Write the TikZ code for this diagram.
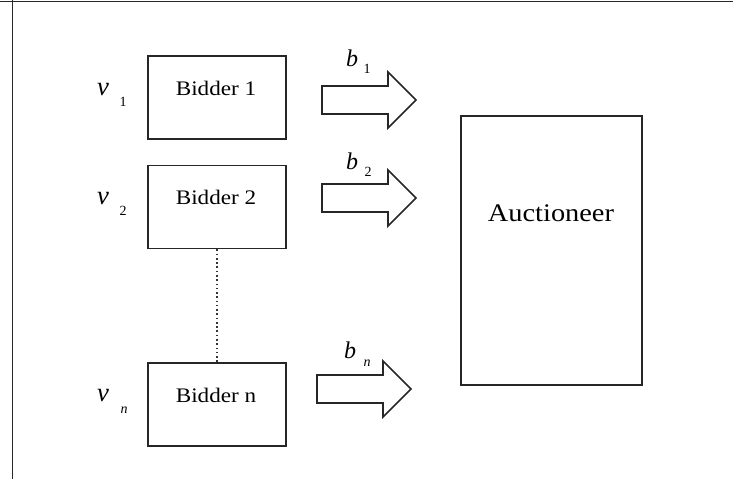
\documentclass[tikz,border=0pt]{standalone}
\usepackage{fontspec}
\setmainfont{Liberation Serif}
\newfontfamily\boxfont[FakeStretch=1.12]{Liberation Serif}
\begin{document}
\begin{tikzpicture}[x=0.75pt,y=-0.75pt,
  boxstyle/.style={draw=black!85,line width=1.3pt,minimum width=138*0.75pt,minimum height=83*0.75pt,inner sep=0pt},
  bidtext/.style={font=\boxfont\fontsize{15.5}{17}\selectfont},
  mathv/.style={font=\fontsize{20}{23}\selectfont\itshape,inner sep=0pt},
  mathb/.style={font=\fontsize{18}{21}\selectfont\itshape,inner sep=0pt},
  subup/.style={font=\fontsize{10.5}{12}\selectfont,inner sep=0pt},
  subit/.style={font=\fontsize{10.5}{12}\selectfont\itshape,inner sep=0pt},
  blockarrow/.pic={
    \draw[line width=1.2pt,black!85,line join=miter]
      (0,-14) -- (66,-14) -- (66,-28) -- (94,0) -- (66,28) -- (66,14) -- (0,14) -- cycle;
  }]
% page extent
\useasboundingbox (0,0) rectangle (733,479);
% frame edges (top and left)
\draw[line width=1.4pt,black!85] (0,1.5) -- (733,1.5);
\draw[line width=1.4pt,black!85] (12.5,0) -- (12.5,479);

% bidders
\node[boxstyle] (bid1) at (217,97.5) {};
\node[boxstyle] (bid2) at (217,207) {};
\node[boxstyle] (bidn) at (217,404.5) {};
\node[bidtext] (t1) at (216,88) {Bidder 1};
\node[bidtext] (t2) at (216,197) {Bidder 2};
\node[bidtext] (tn) at (216,395) {Bidder n};

% ellipsis between bidder 2 and bidder n
\draw[line width=1.2pt,dotted,black!80] (bid2.south) -- (bidn.north);

% valuations
\node[mathv] (v1) at (103,90) {v};
\node[subup] (v1s) at (123,102) {1};
\node[mathv] (v2) at (103,199) {v};
\node[subup] (v2s) at (123,211) {2};
\node[mathv] (vn) at (103,396) {v};
\node[subit] (vns) at (124,410) {n};

% bids
\pic at (322,100) {blockarrow};
\pic at (322,198) {blockarrow};
\pic at (317,389) {blockarrow};
\node[mathb] (b1) at (352,58) {b};
\node[subup] (b1s) at (367,69) {1};
\node[mathb] (b2) at (352,161) {b};
\node[subup] (b2s) at (368,172) {2};
\node[mathb] (bn) at (350,350) {b};
\node[subit] (bns) at (367,363) {n};

% auctioneer
\node[draw=black!85,line width=1.3pt,minimum width=181*0.75pt,minimum height=269*0.75pt,inner sep=0pt] (auc) at (551.5,250.5) {};
\node[font=\boxfont\fontsize{19}{21}\selectfont] (auct) at (551,213) {Auctioneer};
\end{tikzpicture}
\end{document}
